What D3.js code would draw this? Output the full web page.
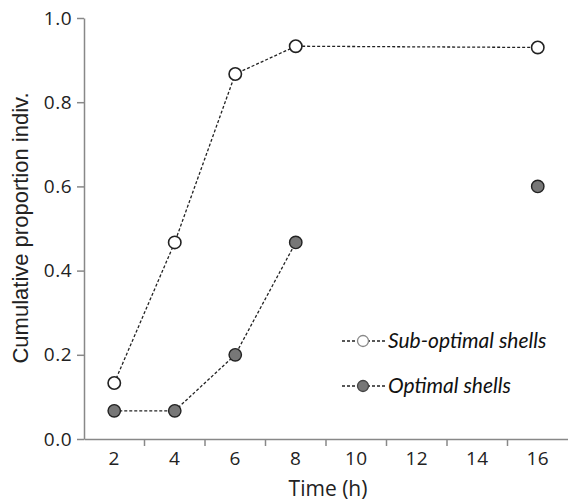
<!DOCTYPE html>
<html>
<head>
<meta charset="utf-8">
<script src="https://cdn.jsdelivr.net/npm/d3@7"></script>
<style>
  body { margin: 0; background: #fff; }
</style>
</head>
<body>
<div id="chart"></div>
<script>
'use strict';

var times      = [2, 4, 6, 8, 10, 12, 14, 16];
var yTicks     = [0, 0.2, 0.4, 0.6, 0.8, 1.0];
var subOptimal = [{t: 2, v: 0.133}, {t: 4, v: 0.467}, {t: 6, v: 0.867}, {t: 8, v: 0.933}, {t: 16, v: 0.930}];
var optimalLine = [{t: 2, v: 0.067}, {t: 4, v: 0.067}, {t: 6, v: 0.2}, {t: 8, v: 0.467}];
var optimalPts  = [{t: 2, v: 0.067}, {t: 4, v: 0.067}, {t: 6, v: 0.2}, {t: 8, v: 0.467}, {t: 16, v: 0.6}];
var legendItems = [{name: 'Sub-optimal shells', fill: '#fff'}, {name: 'Optimal shells', fill: '#777'}];

var W = 568, H = 501;
var margins = {top: 18, bottom: 60, left: 84, right: 0};
var cw = W - margins.left - margins.right;
var ch = H - margins.top - margins.bottom - 2;

var svg = d3.select('#chart').append('svg')
    .attr('width', W)
    .attr('height', H);

var xScale = d3.scaleBand().domain(times).range([0, cw]);
var yScale = d3.scaleLinear().domain([0, 1]).range([ch, 0]);
function cx(d) { return xScale(d.t) + xScale.bandwidth() / 2; }

var chart = svg.append('g')
    .attr('transform', 'translate(' + margins.left + ',' + margins.top + ')');

function styleTicks(g)
{
    g.selectAll('.tick text')
        .style('font-family', '"Open Sans", sans-serif')
        .style('font-size', '19px')
        .style('letter-spacing', '0.5px')
        .attr('fill', '#222');
}

// x axis: ticks sit between the bands
var xAxisG = chart.append('g')
    .attr('transform', 'translate(0,' + ch + ')')
    .call(d3.axisBottom(xScale).tickSize(0).tickPadding(12));
xAxisG.select('.domain').attr('stroke', '#888').attr('stroke-width', 1.5);
xAxisG.selectAll('.tick text').attr('dy', '0.72em');
styleTicks(xAxisG);
xAxisG.selectAll('.sep')
    .data(times.slice(1))
    .enter()
    .append('line')
    .attr('x1', function(d){ return xScale(d); })
    .attr('x2', function(d){ return xScale(d); })
    .attr('y1', 0)
    .attr('y2', 7)
    .attr('stroke', '#888')
    .attr('stroke-width', 1.5);

var yAxisG = chart.append('g')
    .call(d3.axisLeft(yScale).tickValues(yTicks).tickFormat(d3.format('.1f')).tickSize(7).tickSizeOuter(0).tickPadding(5));
yAxisG.select('.domain').attr('stroke', '#888').attr('stroke-width', 1.5);
yAxisG.selectAll('.tick line').attr('stroke', '#888').attr('stroke-width', 1.5);
styleTicks(yAxisG);

var line = d3.line().x(cx).y(function(d){ return yScale(d.v); });

chart.append('path')
    .datum(subOptimal)
    .attr('d', line)
    .attr('fill', 'none')
    .attr('stroke', '#222')
    .attr('stroke-width', 1.3)
    .attr('stroke-dasharray', '3,2');

chart.append('path')
    .datum(optimalLine)
    .attr('d', line)
    .attr('fill', 'none')
    .attr('stroke', '#222')
    .attr('stroke-width', 1.3)
    .attr('stroke-dasharray', '3,2');

chart.selectAll('.opt')
    .data(optimalPts)
    .enter()
    .append('circle')
    .attr('cx', cx)
    .attr('cy', function(d){ return yScale(d.v); })
    .attr('r', 6.2)
    .attr('fill', '#777')
    .attr('stroke', '#222')
    .attr('stroke-width', 1.4);

chart.selectAll('.sub')
    .data(subOptimal)
    .enter()
    .append('circle')
    .attr('cx', cx)
    .attr('cy', function(d){ return yScale(d.v); })
    .attr('r', 6.2)
    .attr('fill', '#fff')
    .attr('stroke', '#222')
    .attr('stroke-width', 1.6);

// legend
var legend = svg.append('g').attr('transform', 'translate(342,341)');
var item = legend.selectAll('g')
    .data(legendItems)
    .enter()
    .append('g')
    .attr('transform', function(d, i){ return 'translate(0,' + (i * 45) + ')'; });
item.append('line')
    .attr('x1', 0).attr('x2', 43).attr('y1', 0).attr('y2', 0)
    .attr('stroke', '#222').attr('stroke-width', 1.3).attr('stroke-dasharray', '3,2');
item.append('circle')
    .attr('cx', 21).attr('cy', 0).attr('r', 5.5)
    .attr('fill', function(d){ return d.fill; })
    .attr('stroke', function(d, i){ return i == 0 ? '#888' : '#444'; })
    .attr('stroke-width', 1.3);
item.append('text')
    .attr('x', 46).attr('y', 0).attr('dy', '0.35em')
    .style('font-family', 'Lato, "Open Sans", sans-serif')
    .style('font-style', 'italic')
    .style('font-size', '21px')
    .attr('fill', '#111')
    .text(function(d){ return d.name; });

svg.append('text')
    .attr('x', margins.left + cw / 2 + 2)
    .attr('y', 496)
    .attr('text-anchor', 'middle')
    .style('font-family', '"Open Sans", sans-serif')
    .style('font-size', '21px')
    .attr('fill', '#222')
    .text('Time (h)');

svg.append('text')
    .attr('transform', 'translate(28,228) rotate(-90)')
    .attr('text-anchor', 'middle')
    .style('font-family', '"Liberation Sans", Arial, sans-serif')
    .style('font-size', '22px')
    .attr('fill', '#222')
    .text('Cumulative proportion indiv.');
</script>
</body>
</html>
